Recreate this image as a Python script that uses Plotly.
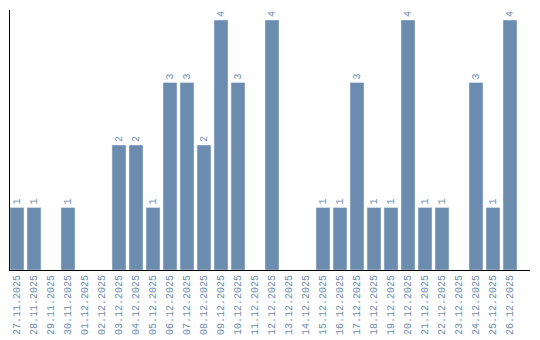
import plotly.graph_objects as go

dates = ["27.11.2025", "28.11.2025", "29.11.2025", "30.11.2025", "01.12.2025", "02.12.2025",
         "03.12.2025", "04.12.2025", "05.12.2025", "06.12.2025", "07.12.2025", "08.12.2025",
         "09.12.2025", "10.12.2025", "11.12.2025", "12.12.2025", "13.12.2025", "14.12.2025",
         "15.12.2025", "16.12.2025", "17.12.2025", "18.12.2025", "19.12.2025", "20.12.2025",
         "21.12.2025", "22.12.2025", "23.12.2025", "24.12.2025", "25.12.2025", "26.12.2025"]
counts = [1, 1, 0, 1, 0, 0, 2, 2, 1, 3, 3, 2, 4, 3, 0, 4, 0, 0, 1, 1, 3, 1, 1, 4, 1, 1, 0, 3, 1, 4]

color = "#6b8cae"
font_family = "Liberation Mono"
labels = [str(v) if v > 0 else "" for v in counts]

fig = go.Figure(go.Bar(
    x=list(range(len(dates))), y=counts,
    marker_color=color, width=14/17,
    text=labels, textposition="outside", textangle=-90,
    textfont=dict(family=font_family, size=10, color=color),
    cliponaxis=False,
))
fig.update_layout(
    width=540, height=340,
    margin=dict(l=10, r=10, t=10, b=70, autoexpand=False),
    plot_bgcolor="white", paper_bgcolor="white",
    showlegend=False,
    uniformtext=dict(minsize=1, mode="show"),
)
fig.update_xaxes(
    tickmode="array", tickvals=list(range(len(dates))), ticktext=dates,
    tickangle=-90, range=[-7/17, -7/17 + 520/17], automargin=False,
    tickfont=dict(family=font_family, size=10, color=color),
    showline=True, linecolor="black", linewidth=1, showgrid=False, ticks="", zeroline=False,
)
fig.update_yaxes(
    range=[0, 4.16], showticklabels=False, showgrid=False, zeroline=False, automargin=False,
    showline=True, linecolor="black", linewidth=1, ticks="",
)
fig.write_html("out.html")
